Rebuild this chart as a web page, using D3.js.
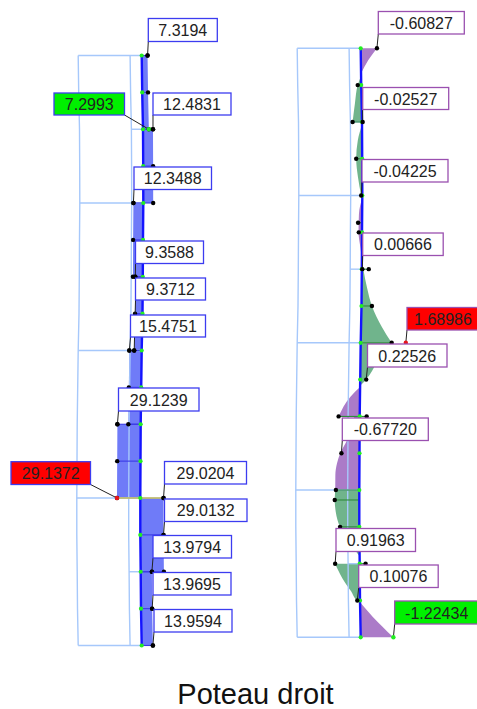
<!DOCTYPE html>
<html><head><meta charset="utf-8">
<script src="https://cdn.jsdelivr.net/npm/d3@7/dist/d3.min.js"></script>
<style>html,body{margin:0;padding:0;background:#fff}svg{display:block}</style>
</head><body><svg id="c" width="477" height="709"></svg>
<script>
// ---- data ----
const stations = d3.range(17);
const columnSway = [-0.3,0.2,1,1.2,1.3,1,0.8,0.5,-0.3,-0.8,-1.3,-1.5,-1.7,-1.7,-1.3,-1,-0.3];
const frameRuns = [[0,0],[2,1],[4,0],[6,1],[8,0],[12,0],[14,1],[16,0]]; // station, storey level (0 outer / 1 inner)
const axialDiagram = [
  [[0,7.3194],[1,7.31],[2,7.2993]],
  [[2,12.4831],[3,12.42],[4,12.36]],
  [[4,-12.3488],[5,-12.35],[6,-12.36]],
  [[6,-9.3588],[7,-9.365],[8,-9.3712]],
  [[8,-15.4751],[9,-15.47],[10,-15.46]],
  [[10,-29.1239],[11,-29.13],[12,-29.1372]],
  [[12,29.0204],[13,29.0132],[14,29.0]],
  [[14,13.9794],[15,13.9695],[16,13.9594]]
];
const axialLabels = ["7.3194","7.2993","12.4831","12.3488","9.3588","9.3712","15.4751","29.1239","29.1372","29.0204","29.0132","13.9794","13.9695","13.9594"];
const axialLabelStations = [0,2,2,4,6,8,8,10,12,12,13,14,15,16];
const axialLabelValues = [7.3194,7.2993,12.4831,-12.3488,-9.3588,-9.3712,-15.4751,-29.1239,-29.1372,29.0204,29.0132,13.9794,13.9695,13.9594];
const axialLabelKinds = ["","min","","","","","","","max","","","","",""];

const momentPurple = [
  [[0,.608],[.32,.28],[.67,.01]],
  [[4.05,0],[4.5,-.12],[5,-.13],[5.4,-.06],[5.7,0]],
  [[9.2,0],[9.45,-.34],[10,-.79]],
  [[10,-.2],[10.65,-.47],[11,-.72],[11.27,-.84],[11.6,-.9],[12,-.9]],
  [[15.05,0],[15.45,.47],[16,1.22]]
];
const momentGreen = [
  [[.75,0],[1,-.13],[1.5,-.25],[2,-.352]],
  [[2.07,0],[2.5,-.16],[3,-.225],[3.5,-.16],[4,-.04]],
  [[5.7,0],[6,.06],[6.5,.2],[7,.39],[7.57,.78],[8,1.16]],
  [[8,1.16],[8.5,.65],[9,.22],[9.17,0]],
  [[12,-.9],[12.27,-.92],[12.6,-.88],[13,-.72],[13.4,-.35],[13.7,-.1],[13.8,0]],
  [[14,-.92],[14.4,-.65],[14.75,-.33],[15,-.1],[15.05,0]]
];
const momentExtraDots = [[1,-.13],[2,-.352],[3,-.225],[4.74,-.15],[5,-.12],[6,.26],[7,.39],[8,1.16],[10,-.79],[10,.26],[12,-.877],[12.27,-.92],[13,-.72],[14,.22]];
const momentLabels = ["-0.60827","-0.02527","-0.04225","0.00666","1.68986","0.22526","-0.67720","0.91963","0.10076","-1.22434"];
const momentLabelStations = [0,2,4,6,8,9,11,14,15,16];
const momentLabelDrawn = [.608,.025,-.042,.02,1.68986,.22526,-.6772,-.91963,-.10076,1.22434];
const momentLabelKinds = ["","","","","max","","","","","min"];
const title = "Poteau droit";

// ---- layout ----
const axialBoxes = [[148.3,18.5,69,23],[54,93,70.5,22],[153,93,78,22],[134,167,77.5,22.5],[135.5,241,68,22.5],[135.5,278,70,22],[130.5,315,75,22],[118.5,388,80.5,23],[11,461.7,79.5,22.8],[164.5,461.5,82,22.5],[164.5,499,82.5,22.5],[153,535.5,78.5,22.5],[153,572.5,78,22.5],[154,609.5,78,22.5]];
const momentBoxes = [[378.3,11.5,86,22.5],[362.7,87.5,86,22],[362,159.5,86,22.5],[362.7,233,80.5,22.5],[407,307.5,72,22.5],[367.5,344,79.5,23],[342.3,418,86,22.5],[336,528.5,79.5,23],[358.7,565,79.5,22.5],[394.7,601,84,23]];

const svg = d3.select("#c");
const FONT = "'Liberation Sans', Arial, sans-serif";

function panel(opts){
  const g = svg.append("g");
  const y = d3.scaleLinear().domain([0,16]).range(opts.yRange);
  const dx = d3.scaleLinear().domain([0,1]).range([0,opts.pxPerUnit]);
  const ax = s => {
    const i = Math.min(15,Math.floor(s)), t = s-i;
    return opts.x0 + columnSway[i]*(1-t) + columnSway[i+1]*t;
  };
  const px = (s,v) => ax(s)+dx(v);
  const area = d3.area().y(d=>y(d[0])).x0(d=>ax(d[0])).x1(d=>px(d[0],d[1])).curve(opts.curve);
  const fills = g.append("g");
  opts.fills.forEach(f=>{
    fills.selectAll(null).data(f.data).join("path").attr("d",area).attr("fill",f.color);
  });
  // frame
  const frame = g.append("g").attr("fill","none").attr("stroke","#a6c8fb").attr("stroke-width",1.4);
  const vert = off => d3.line().x(s=>ax(s)+off).y(s=>y(s));
  frame.append("path").attr("d",vert(-63.5)(stations));
  frame.append("path").attr("d",vert(-11.6)(stations));
  frame.selectAll("line").data(frameRuns).join("line")
    .attr("x1",d=>ax(d[0])+(d[1]?-11.6:-63.5)).attr("x2",d=>ax(d[0]))
    .attr("y1",d=>y(d[0])).attr("y2",d=>y(d[0]));
  // stems
  const stems = g.append("g").attr("stroke",opts.stem).attr("stroke-width",1.1);
  stems.selectAll("line").data(opts.dots.filter(d=>!d[2])).join("line")
    .attr("x1",d=>ax(d[0])).attr("x2",d=>px(d[0],d[1])).attr("y1",d=>y(d[0])).attr("y2",d=>y(d[0]));
  if(opts.overlay) opts.overlay(g,px,y);
  // axis
  g.append("path").attr("fill","none").attr("stroke","#1414ff").attr("stroke-width",2.4)
    .attr("d",d3.line().x(s=>ax(s)).y(s=>y(s))(stations));
  // nodes
  g.append("g").selectAll("circle").data(stations).join("circle")
    .attr("cx",ax).attr("cy",y).attr("r",2.1).attr("fill","#22ee22");
  // dots
  g.append("g").selectAll("circle").data(opts.dots).join("circle")
    .attr("cx",d=>px(d[0],d[1])).attr("cy",d=>y(d[0])).attr("r",2.2).attr("fill","#000");
  // labels
  const lab = g.append("g");
  opts.labels.forEach((t,i)=>{
    const b = opts.boxes[i], s = opts.labelStations[i], v = opts.labelValues[i], kind = opts.kinds[i];
    const tx = px(s,v), ty = y(s);
    const fromX = (b[0]+b[2] < tx) ? b[0]+b[2] : b[0];
    lab.append("line").attr("x1",fromX).attr("y1",b[1]+b[3]).attr("x2",tx).attr("y2",ty)
      .attr("stroke","#222").attr("stroke-width",1);
    lab.append("circle").attr("cx",tx).attr("cy",ty).attr("r",2.2)
      .attr("fill",kind==="max"?"#e8141c":kind==="min"?"#22ee22":"#000");
    lab.append("rect").attr("x",b[0]).attr("y",b[1]).attr("width",b[2]).attr("height",b[3])
      .attr("fill",kind==="max"?"#ff0000":kind==="min"?"#00f000":"#fff")
      .attr("stroke",opts.border).attr("stroke-width",1.3);
    lab.append("text").attr("x",b[0]+b[2]/2).attr("y",b[1]+b[3]/2+6)
      .attr("text-anchor","middle").attr("font-family",FONT).attr("font-size",16)
      .attr("fill","#222").text(t);
  });
}

const axialDots = axialDiagram.flat();
panel({
  x0:142, yRange:[55.5,645.5], pxPerUnit:0.8, curve:d3.curveLinear,
  fills:[{data:axialDiagram,color:"#6f7bf8"}],
  stem:"#3a3ae6", dots:axialDots,
  overlay:(g,px,y)=>{
    g.append("line").attr("x1",px(12,-29.1372)).attr("x2",px(12,29.0204))
      .attr("y1",y(12)).attr("y2",y(12)).attr("stroke","#d9d45c").attr("stroke-width",1.6);
  },
  labels:axialLabels,boxes:axialBoxes,labelStations:axialLabelStations,labelValues:axialLabelValues,kinds:axialLabelKinds,
  border:"#3c3cf0"
});
panel({
  x0:361, yRange:[48.3,637.3], pxPerUnit:26.7, curve:d3.curveMonotoneY,
  fills:[{data:momentPurple,color:"#ab7bc8"},{data:momentGreen,color:"#70b48c"}],
  stem:"#2f8a3c", dots:momentExtraDots,
  labels:momentLabels,boxes:momentBoxes,labelStations:momentLabelStations,labelValues:momentLabelDrawn,kinds:momentLabelKinds,
  border:"#9a50b0"
});
svg.append("text").attr("x",255.5).attr("y",704).attr("text-anchor","middle")
  .attr("font-family",FONT).attr("font-size",29).attr("fill","#111").text(title);
</script></body></html>
